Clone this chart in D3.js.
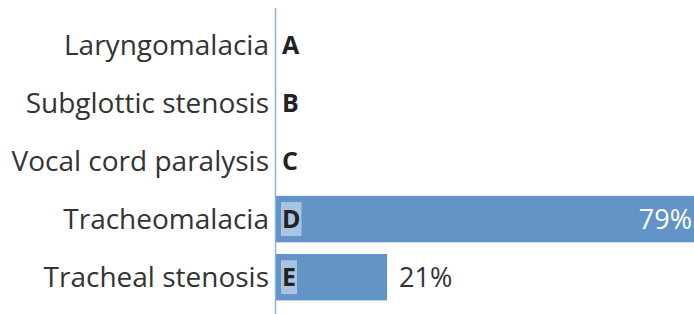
<!DOCTYPE html>
<html>
<head>
<meta charset="utf-8">
<script src="https://cdn.jsdelivr.net/npm/d3@7"></script>
<style>
  body { margin: 0; background: #fff; }
  svg { display: block; font-family: "Open Sans", "Noto Sans", sans-serif; }
</style>
</head>
<body>
<div id="chart"></div>
<script>
// chart data
const categories = ['Laryngomalacia', 'Subglottic stenosis', 'Vocal cord paralysis', 'Tracheomalacia', 'Tracheal stenosis']
const letters = ['A', 'B', 'C', 'D', 'E']
const values = [0, 0, 0, 79, 21]

const width = 694, height = 314
const margin = {top: 10, right: 0, bottom: 2, left: 276}

const svg = d3.select('#chart').append('svg')
  .attr('width', width)
  .attr('height', height)

const rows = categories.map((c, i) => ({name: c, letter: letters[i], value: values[i]}))

const x = d3.scaleLinear()
  .domain([0, d3.max(values)])
  .range([margin.left, width - margin.right])

const y = d3.scaleBand()
  .domain(categories)
  .range([margin.top, height - margin.bottom])
  .padding(0.2)

const mid = d => y(d.name) + y.bandwidth() / 2

// bars
svg.selectAll('rect.bar')
  .data(rows)
  .join('rect')
  .attr('class', 'bar')
  .attr('x', x(0))
  .attr('y', d => y(d.name))
  .attr('width', d => x(d.value) - x(0))
  .attr('height', y.bandwidth())
  .attr('fill', '#6294c7')

// axis line
svg.append('line')
  .attr('x1', x(0) - 0.5).attr('x2', x(0) - 0.5)
  .attr('y1', 8).attr('y2', height)
  .attr('stroke', '#8db2da')
  .attr('stroke-width', 1.5)

// category labels
svg.selectAll('text.cat')
  .data(rows)
  .join('text')
  .attr('class', 'cat')
  .attr('x', x(0) - 7)
  .attr('y', mid)
  .attr('dy', '0.36em')
  .attr('text-anchor', 'end')
  .attr('font-size', 28)
  .attr('fill', '#333')
  .text(d => d.name)

// letter tags, light box behind when sitting on a bar
const tags = svg.append('g')
const tagBoxes = tags.selectAll('rect')
  .data(rows.filter(d => d.value > 0))
  .join('rect')
  .attr('fill', '#fff')
  .attr('fill-opacity', 0.45)

const letterText = tags.selectAll('text')
  .data(rows)
  .join('text')
  .attr('x', x(0) + 6)
  .attr('y', mid)
  .attr('dy', '0.36em')
  .attr('font-size', 25)
  .attr('font-weight', 'bold')
  .attr('fill', '#222')
  .text(d => d.letter)

tagBoxes.each(function (d) {
  const i = rows.indexOf(d)
  const bb = letterText.nodes()[i].getBBox()
  d3.select(this)
    .attr('x', bb.x - 1)
    .attr('y', mid(d) - 17)
    .attr('width', bb.width + 2)
    .attr('height', 34)
})

// value labels: inside for long bars, outside for short
svg.selectAll('text.val')
  .data(rows.filter(d => d.value > 0))
  .join('text')
  .attr('class', 'val')
  .attr('x', d => d.value > 50 ? x(d.value) - 2 : x(d.value) + 12)
  .attr('y', mid)
  .attr('dy', '0.36em')
  .attr('text-anchor', d => d.value > 50 ? 'end' : 'start')
  .attr('font-size', 27)
  .attr('fill', d => d.value > 50 ? '#fff' : '#333')
  .text(d => d.value + '%')
</script>
</body>
</html>
